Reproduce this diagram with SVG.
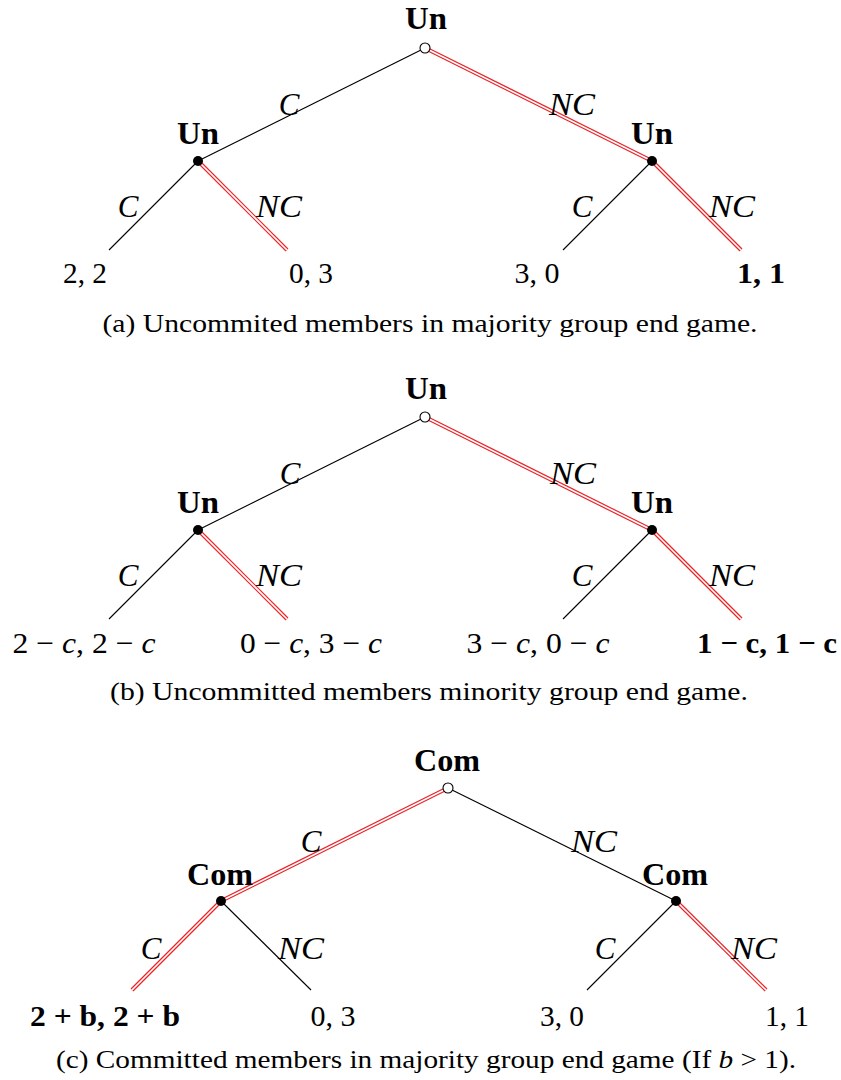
<svg xmlns="http://www.w3.org/2000/svg" width="841" height="1080" viewBox="0 0 841 1080">
<style>
.bg{fill:#fff}
.e{stroke:#000;stroke-width:1.1;fill:none}
.r1{stroke:#e8262a;stroke-width:4;fill:none}
.r2{stroke:#fff;stroke-width:1.6;fill:none}
.root{fill:#fff;stroke:#000;stroke-width:1.1}
.dec{fill:#000}
.nl{font-family:"Liberation Serif",serif;font-weight:bold;font-size:31px;text-anchor:middle;fill:#000}
.bl{font-family:"Liberation Serif",serif;font-style:italic;font-size:31px;text-anchor:middle;fill:#000}
.lf{font-family:"Liberation Serif",serif;font-size:30px;text-anchor:middle;fill:#000}
.lfb{font-family:"Liberation Serif",serif;font-weight:bold;font-size:30px;text-anchor:middle;fill:#000}
.cap{font-family:"Liberation Serif",serif;font-size:25.5px;text-anchor:middle;fill:#000}
</style>
<rect class="bg" x="0" y="0" width="841" height="1080"/>
<g id="connectors">
<line class="e" x1="425" y1="48" x2="198" y2="161"/>
<line class="r1" x1="425" y1="48" x2="652" y2="161"/><line class="r2" x1="425" y1="48" x2="652" y2="161"/>
<line class="e" x1="198" y1="161" x2="109" y2="250"/>
<line class="r1" x1="198" y1="161" x2="287" y2="250"/><line class="r2" x1="198" y1="161" x2="287" y2="250"/>
<line class="e" x1="652" y1="161" x2="563" y2="250"/>
<line class="r1" x1="652" y1="161" x2="741" y2="250"/><line class="r2" x1="652" y1="161" x2="741" y2="250"/>
<line class="e" x1="425" y1="417" x2="198" y2="530"/>
<line class="r1" x1="425" y1="417" x2="652" y2="530"/><line class="r2" x1="425" y1="417" x2="652" y2="530"/>
<line class="e" x1="198" y1="530" x2="109" y2="619"/>
<line class="r1" x1="198" y1="530" x2="287" y2="619"/><line class="r2" x1="198" y1="530" x2="287" y2="619"/>
<line class="e" x1="652" y1="530" x2="563" y2="619"/>
<line class="r1" x1="652" y1="530" x2="741" y2="619"/><line class="r2" x1="652" y1="530" x2="741" y2="619"/>
<line class="r1" x1="448" y1="788" x2="221" y2="901"/><line class="r2" x1="448" y1="788" x2="221" y2="901"/>
<line class="e" x1="448" y1="788" x2="676" y2="901"/>
<line class="r1" x1="221" y1="901" x2="132" y2="990"/><line class="r2" x1="221" y1="901" x2="132" y2="990"/>
<line class="e" x1="221" y1="901" x2="311" y2="990"/>
<line class="e" x1="676" y1="901" x2="587" y2="990"/>
<line class="r1" x1="676" y1="901" x2="766" y2="990"/><line class="r2" x1="676" y1="901" x2="766" y2="990"/>
</g>
<g id="edge-labels">
<text class="bl" x="289" y="115">C</text>
<text class="bl" x="572" y="115" textLength="46" lengthAdjust="spacingAndGlyphs">NC</text>
<text class="bl" x="128" y="217">C</text>
<text class="bl" x="279" y="217" textLength="46" lengthAdjust="spacingAndGlyphs">NC</text>
<text class="bl" x="582" y="217">C</text>
<text class="bl" x="732" y="217" textLength="46" lengthAdjust="spacingAndGlyphs">NC</text>
<text class="bl" x="290" y="484">C</text>
<text class="bl" x="573" y="484" textLength="46" lengthAdjust="spacingAndGlyphs">NC</text>
<text class="bl" x="128" y="586">C</text>
<text class="bl" x="279" y="586" textLength="46" lengthAdjust="spacingAndGlyphs">NC</text>
<text class="bl" x="582" y="586">C</text>
<text class="bl" x="732" y="586" textLength="46" lengthAdjust="spacingAndGlyphs">NC</text>
<text class="bl" x="311" y="852">C</text>
<text class="bl" x="594" y="852" textLength="46" lengthAdjust="spacingAndGlyphs">NC</text>
<text class="bl" x="151" y="959">C</text>
<text class="bl" x="301" y="959" textLength="46" lengthAdjust="spacingAndGlyphs">NC</text>
<text class="bl" x="605" y="959">C</text>
<text class="bl" x="754" y="959" textLength="46" lengthAdjust="spacingAndGlyphs">NC</text>
</g>
<g id="a-root"><circle class="root" cx="425" cy="48" r="5"/><text class="nl" x="426" y="29" textLength="42" lengthAdjust="spacingAndGlyphs">Un</text></g>
<g id="a-left"><circle class="dec" cx="198" cy="161" r="5"/><text class="nl" x="198" y="144" textLength="42" lengthAdjust="spacingAndGlyphs">Un</text></g>
<g id="a-right"><circle class="dec" cx="652" cy="161" r="5"/><text class="nl" x="652" y="144" textLength="42" lengthAdjust="spacingAndGlyphs">Un</text></g>
<g id="a-leaf1"><text class="lf" x="85" y="283" textLength="44" lengthAdjust="spacingAndGlyphs">2, 2</text></g>
<g id="a-leaf2"><text class="lf" x="311" y="283" textLength="44" lengthAdjust="spacingAndGlyphs">0, 3</text></g>
<g id="a-leaf3"><text class="lf" x="537" y="283" textLength="45" lengthAdjust="spacingAndGlyphs">3, 0</text></g>
<g id="a-leaf4"><text class="lfb" x="761" y="283" textLength="48" lengthAdjust="spacingAndGlyphs">1, 1</text></g>
<text class="cap" x="430" y="332" textLength="655" lengthAdjust="spacingAndGlyphs">(a)  Uncommited members in majority group end game.</text>

<g id="b-root"><circle class="root" cx="425" cy="417" r="5"/><text class="nl" x="426" y="399" textLength="42" lengthAdjust="spacingAndGlyphs">Un</text></g>
<g id="b-left"><circle class="dec" cx="198" cy="530" r="5"/><text class="nl" x="198" y="513" textLength="42" lengthAdjust="spacingAndGlyphs">Un</text></g>
<g id="b-right"><circle class="dec" cx="652" cy="530" r="5"/><text class="nl" x="652" y="513" textLength="42" lengthAdjust="spacingAndGlyphs">Un</text></g>
<g id="b-leaf1"><text class="lf" x="84" y="653" textLength="143" lengthAdjust="spacingAndGlyphs">2 − <tspan font-style="italic">c</tspan>, 2 − <tspan font-style="italic">c</tspan></text></g>
<g id="b-leaf2"><text class="lf" x="311" y="653" textLength="142" lengthAdjust="spacingAndGlyphs">0 − <tspan font-style="italic">c</tspan>, 3 − <tspan font-style="italic">c</tspan></text></g>
<g id="b-leaf3"><text class="lf" x="538" y="653" textLength="143" lengthAdjust="spacingAndGlyphs">3 − <tspan font-style="italic">c</tspan>, 0 − <tspan font-style="italic">c</tspan></text></g>
<g id="b-leaf4"><text class="lfb" x="767" y="653" textLength="140" lengthAdjust="spacingAndGlyphs">1 − c, 1 − c</text></g>
<text class="cap" x="429" y="700" textLength="638" lengthAdjust="spacingAndGlyphs">(b)  Uncommitted members minority group end game.</text>

<g id="c-root"><circle class="root" cx="448" cy="788" r="5"/><text class="nl" x="447" y="771" textLength="66" lengthAdjust="spacingAndGlyphs">Com</text></g>
<g id="c-left"><circle class="dec" cx="221" cy="901" r="5"/><text class="nl" x="220" y="885" textLength="66" lengthAdjust="spacingAndGlyphs">Com</text></g>
<g id="c-right"><circle class="dec" cx="676" cy="901" r="5"/><text class="nl" x="675" y="885" textLength="66" lengthAdjust="spacingAndGlyphs">Com</text></g>
<g id="c-leaf1"><text class="lfb" x="105" y="1026" textLength="150" lengthAdjust="spacingAndGlyphs">2 + b, 2 + b</text></g>
<g id="c-leaf2"><text class="lf" x="333" y="1026" textLength="45" lengthAdjust="spacingAndGlyphs">0, 3</text></g>
<g id="c-leaf3"><text class="lf" x="562" y="1026" textLength="44" lengthAdjust="spacingAndGlyphs">3, 0</text></g>
<g id="c-leaf4"><text class="lf" x="787" y="1026" textLength="44" lengthAdjust="spacingAndGlyphs">1, 1</text></g>
<text class="cap" x="426" y="1068" textLength="740" lengthAdjust="spacingAndGlyphs">(c)  Committed members in majority group end game (If <tspan font-style="italic">b</tspan> &gt; 1).</text>
</svg>
